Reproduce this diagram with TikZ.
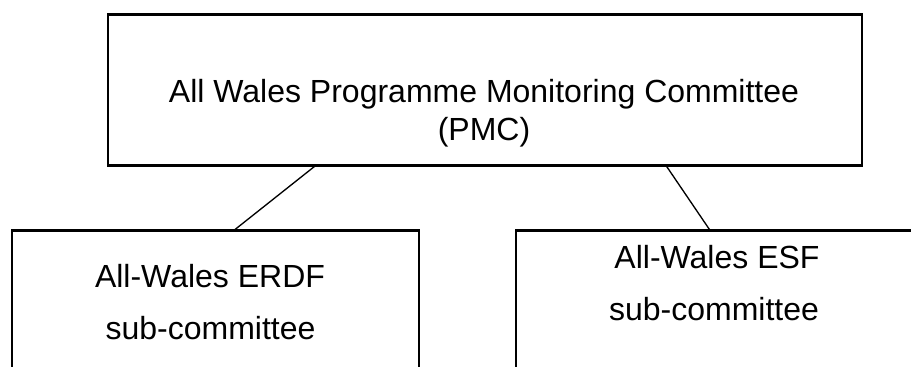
\documentclass[tikz,border=0pt]{standalone}
\usepackage{fontspec}
\setmainfont{Liberation Sans}
\usetikzlibrary{calc}
\begin{document}
\begin{tikzpicture}[x=0.75pt,y=-0.75pt,
  panel/.style={draw=black, line width=1.9pt, outer sep=0pt, inner sep=0pt,
                rectangle, anchor=north west},
  caption/.style={font=\fontsize{24}{28.8}\selectfont, anchor=base, inner sep=0pt},
  link/.style={draw=black, line width=1pt}]
\useasboundingbox (0,0) rectangle (911,367);
\clip (0,0) rectangle (911,367);

% committee boxes (the lower two run past the page edge)
\node[panel, minimum width=565.5pt, minimum height=113.1pt] (pmc) at (108,14.7) {};
\node[panel, minimum width=305.25pt, minimum height=127.5pt] (erdf) at (12,230.3) {};
\node[panel, minimum width=299.25pt, minimum height=127.5pt] (esf) at (516,230.3) {};

% labels
\node[caption] (pmcA) at (484,102.3) {All Wales Programme Monitoring Committee};
\node[caption] (pmcB) at (484,140.5) {(PMC)};
\node[caption] (erdfA) at (210,287.3) {All-Wales ERDF};
\node[caption] (erdfB) at (210.5,339.5) {sub-committee};
\node[caption] (esfA) at (717,269) {All-Wales ESF};
\node[caption] (esfB) at (714,320.7) {sub-committee};

% links from the PMC to its sub-committees
\draw[link] ($(pmc.south west)+(207.7,0)$) -- ($(erdf.north west)+(222,0)$);
\draw[link] ($(pmc.south west)+(558,0)$) -- ($(esf.north west)+(194,0)$);
\end{tikzpicture}
\end{document}
